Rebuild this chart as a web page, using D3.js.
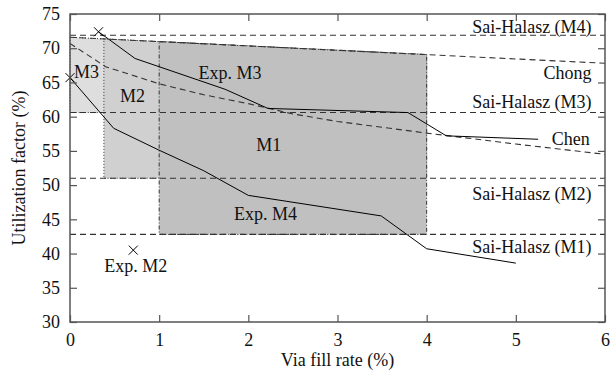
<!DOCTYPE html>
<html>
<head>
<meta charset="utf-8">
<script src="https://cdn.jsdelivr.net/npm/d3@7"></script>
<style>
  body { margin: 0; background: #fff; }
  svg text { font-family: "Liberation Serif", "Times New Roman", "DejaVu Serif", serif; font-size: 18px; fill: #111; }
  .axis line { stroke: #555; stroke-width: 1.2; }
  .axis path { display: none; }
</style>
</head>
<body>
<div id="chart"></div>
<script>
// ---- data ----
var xTicks = [0, 1, 2, 3, 4, 5, 6];
var yTicks = [30, 35, 40, 45, 50, 55, 60, 65, 70, 75];

// Sai-Halasz levels (horizontal dashed)
var saiNames = ["Sai-Halasz (M4)", "Sai-Halasz (M3)", "Sai-Halasz (M2)", "Sai-Halasz (M1)"];
var saiValues = [71.9, 60.6, 51.0, 42.8];

// Chong model (straight dashed)
var chongX = [0, 6];
var chongY = [71.6, 67.8];

// Chen model (curved dashed)
var chenX = [0, 0.4, 1, 1.5, 2, 2.5, 3, 4, 5, 6];
var chenY = [70.7, 67.3, 64.8, 63.2, 61.9, 60.4, 59.3, 57.6, 56.0, 54.5];

// experimental curves (solid)
var expM3X = [0.32, 0.73, 1.74, 2.22, 3.79, 4.22, 5.25];
var expM3Y = [72.4, 68.5, 64.0, 61.2, 60.6, 57.2, 56.7];
var expM4X = [0, 0.49, 1.0, 1.5, 2.0, 3.49, 4.0, 5.0];
var expM4Y = [65.7, 58.3, 55.1, 52.1, 48.5, 45.5, 40.7, 38.6];

// single experimental points (crosses)
var crossX = [0.32, 0, 0.71];
var crossY = [72.4, 65.7, 40.5];

// shaded regions (top edge follows the Chong line)
var regionNames = ["M3", "M2", "M1"];
var regionX0 = [0, 0.38, 1];
var regionX1 = [4, 4, 4];
var regionBottom = [60.6, 51.0, 42.8];

// annotations
var labelText = ["Sai-Halasz (M4)", "Chong", "Sai-Halasz (M3)", "Chen", "Sai-Halasz (M2)", "Sai-Halasz (M1)",
                 "M3", "M2", "M1", "Exp. M3", "Exp. M4", "Exp. M2"];
var labelX = [5.85, 5.85, 5.85, 5.83, 5.85, 5.85, 0.045, 0.56, 2.09, 1.44, 1.84, 0.385];
var labelY = [72.2, 65.5, 61.3, 55.8, 47.8, 40.1, 65.6, 62.2, 55.0, 65.55, 44.9, 37.35];
var labelEnd = [1, 1, 1, 1, 1, 1, 0, 0, 0, 0, 0, 0];

// ---- chart ----
var W = 611, H = 373;
var serif = "'Liberation Serif', 'Times New Roman', 'DejaVu Serif', serif";
var margin = {top: 14, right: 6, bottom: 51, left: 70},
    width = W - margin.left - margin.right,
    height = H - margin.top - margin.bottom;

var svg = d3.select("#chart").append("svg")
    .attr("width", W)
    .attr("height", H)
    .attr("font-family", serif);
var g = svg.append("g")
    .attr("transform", "translate(" + margin.left + "," + margin.top + ")");

var x = d3.scaleLinear().domain([0, 6]).range([0, width]);
var y = d3.scaleLinear().domain([30, 75]).range([height, 0]);

function chongAt(v) {
  return chongY[0] + (chongY[1] - chongY[0]) * (v - chongX[0]) / (chongX[1] - chongX[0]);
}

var regionFill = ["#dedede", "#d0d0d0", "#c0c0c0"];
var regionDash = ["1,2", "1,2", "4,2,1,2"];

regionNames.forEach(function(name, i) {
  var pts = [
    [regionX0[i], chongAt(regionX0[i])],
    [regionX1[i], chongAt(regionX1[i])],
    [regionX1[i], regionBottom[i]],
    [regionX0[i], regionBottom[i]]
  ];
  g.append("path")
    .attr("d", d3.line().x(function(d){return x(d[0]);}).y(function(d){return y(d[1]);})(pts) + "Z")
    .style("fill", regionFill[i])
    .style("stroke", "#333")
    .style("stroke-width", 1)
    .style("stroke-dasharray", regionDash[i]);
});

// dashed model lines
var dashStyle = "6,4";
saiValues.forEach(function(v) {
  g.append("line")
    .attr("x1", x(0)).attr("x2", x(6))
    .attr("y1", y(v)).attr("y2", y(v))
    .style("stroke", "#333")
    .style("stroke-width", 1.1)
    .style("stroke-dasharray", dashStyle);
});

var line = d3.line()
  .x(function(d){return x(d[0]);})
  .y(function(d){return y(d[1]);});

function pairs(xs, ys) { return xs.map(function(v, i){ return [v, ys[i]]; }); }

g.append("path")
  .attr("d", line(pairs(chongX, chongY)))
  .style("fill", "none").style("stroke", "#333").style("stroke-width", 1.1)
  .style("stroke-dasharray", dashStyle);

g.append("path")
  .attr("d", line(pairs(chenX, chenY)))
  .style("fill", "none").style("stroke", "#333").style("stroke-width", 1.1)
  .style("stroke-dasharray", dashStyle);

// experimental solid lines
[pairs(expM3X, expM3Y), pairs(expM4X, expM4Y)].forEach(function(p) {
  g.append("path")
    .attr("d", line(p))
    .style("fill", "none").style("stroke", "#000").style("stroke-width", 1);
});

// crosses
crossX.forEach(function(v, i) {
  var cx = x(v), cy = y(crossY[i]), s = 4.5;
  g.append("path")
    .attr("d", "M" + (cx - s) + "," + (cy - s) + "L" + (cx + s) + "," + (cy + s) +
               "M" + (cx - s) + "," + (cy + s) + "L" + (cx + s) + "," + (cy - s))
    .style("stroke", "#000").style("stroke-width", 1);
});

// axes with inward ticks on all four sides
var fmt = d3.format("d");
g.append("g").attr("class", "axis")
  .attr("transform", "translate(0," + height + ")")
  .call(d3.axisBottom(x).tickValues(xTicks).tickFormat(fmt).tickSizeInner(-7).tickSizeOuter(0).tickPadding(11));
g.append("g").attr("class", "axis")
  .call(d3.axisTop(x).tickValues(xTicks).tickSizeInner(-7).tickSizeOuter(0).tickFormat(""));
g.append("g").attr("class", "axis")
  .call(d3.axisLeft(y).tickValues(yTicks).tickFormat(fmt).tickSizeInner(-7).tickSizeOuter(0).tickPadding(10));
g.append("g").attr("class", "axis")
  .attr("transform", "translate(" + width + ",0)")
  .call(d3.axisRight(y).tickValues(yTicks).tickSizeInner(-7).tickSizeOuter(0).tickFormat(""));

g.selectAll(".axis")
  .attr("font-family", serif)
  .attr("font-size", 18);

g.append("rect")
  .attr("width", width).attr("height", height)
  .style("fill", "none").style("stroke", "#555").style("stroke-width", 1.5);

// labels
labelText.forEach(function(t, i) {
  g.append("text")
    .attr("x", x(labelX[i]))
    .attr("y", y(labelY[i]))
    .attr("text-anchor", labelEnd[i] ? "end" : "start")
    .text(t);
});

svg.append("text")
  .attr("x", margin.left + width / 2)
  .attr("y", 366)
  .attr("text-anchor", "middle")
  .text("Via fill rate (%)");

svg.append("text")
  .attr("transform", "translate(25," + (margin.top + height / 2) + ") rotate(-90)")
  .attr("text-anchor", "middle")
  .text("Utilization factor (%)");
</script>
</body>
</html>
